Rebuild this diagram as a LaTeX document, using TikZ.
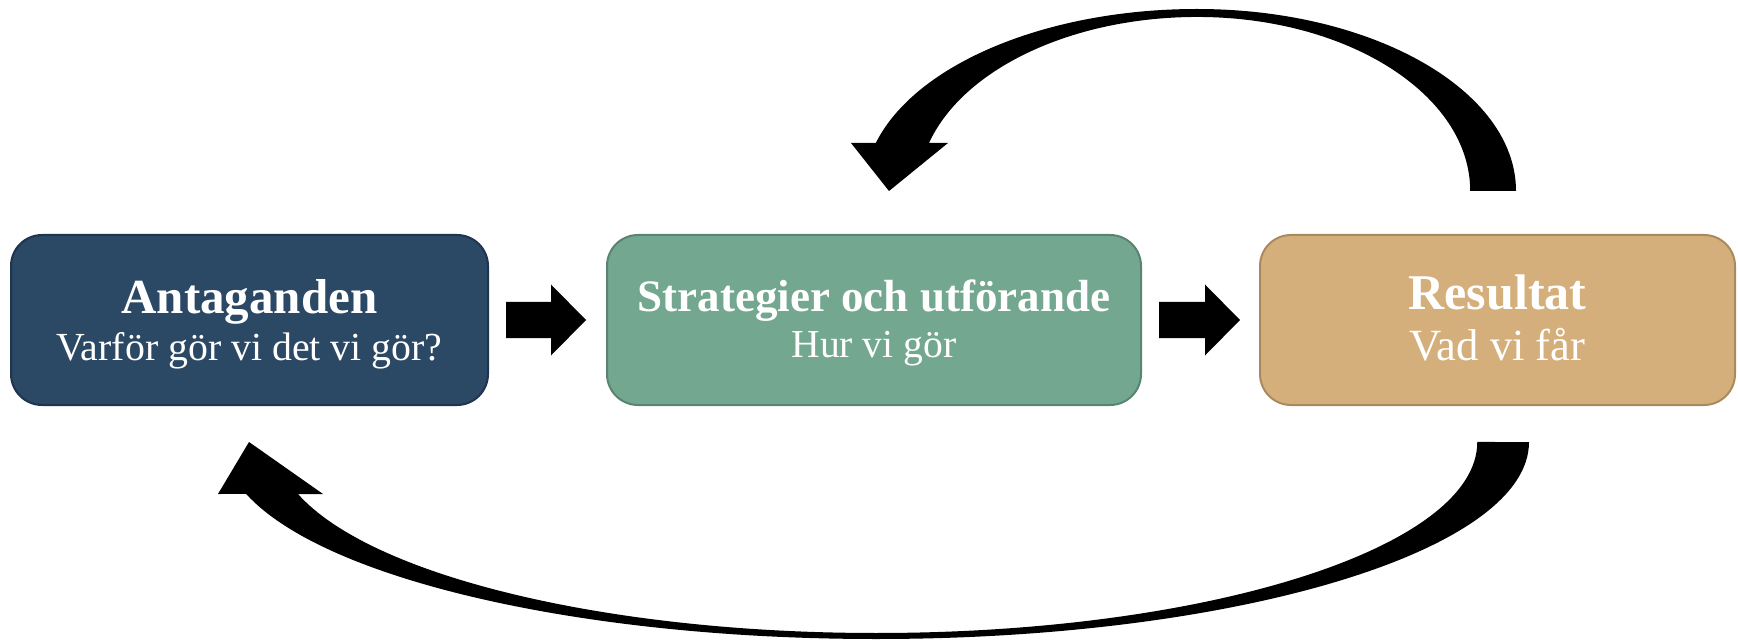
\documentclass[tikz,border=0pt]{standalone}
\usepackage{fontspec}
\setmainfont{Liberation Serif}
\usetikzlibrary{calc}
\definecolor{cA}{HTML}{2B4865}
\definecolor{cAd}{HTML}{1E3450}
\definecolor{cB}{HTML}{73A790}
\definecolor{cBd}{HTML}{5B8470}
\definecolor{cC}{HTML}{D5AF7B}
\definecolor{cCd}{HTML}{A88A5E}
\begin{document}
\begin{tikzpicture}[x=1pt,y=1pt,
  box/.style={line width=2pt, rounded corners=31pt, minimum height=170pt, inner sep=0pt},
  ttl/.style={text=white, anchor=base, inner sep=0pt},
  sub/.style={text=white, anchor=base, inner sep=0pt},
  blk/.style={fill=black, draw=none}]
\useasboundingbox (0,0) rectangle (1738,641);
% boxes
\node[box, fill=cA, draw=cAd, minimum width=477pt] (a) at (249.5,321) {};
\node[box, fill=cB, draw=cBd, minimum width=534pt] (b) at (874,321) {};
\node[box, fill=cC, draw=cCd, minimum width=475pt] (c) at (1497.5,321) {};
% texts
\node[ttl, font={\fontsize{49}{58}\selectfont\bfseries}] (at) at ($(a.center)+(0,6)$) {Antaganden};
\node[sub, font={\fontsize{39.8}{48}\selectfont}] (as) at ($(a.center)+(0,-40)$) {Varför gör vi det vi gör?};
\node[ttl, font={\fontsize{45}{54}\selectfont\bfseries}] (bt) at ($(b.center)+(0,9)$) {Strategier och utförande};
\node[sub, font={\fontsize{39.6}{48}\selectfont}] (bs) at ($(b.center)+(0,-37)$) {Hur vi gör};
\node[ttl, font={\fontsize{50}{60}\selectfont\bfseries}] (ct) at ($(c.center)+(0,10)$) {Resultat};
\node[sub, font={\fontsize{44.6}{54}\selectfont}] (cs) at ($(c.center)+(0,-40)$) {Vad vi får};
% straight block arrows
\coordinate (s1) at ($(a.east)+(17,0)$);
\coordinate (e1) at ($(b.west)+(-20,0)$);
\fill[blk] (s1) ++(0,18) -- ($(e1)+(-35,18)$) -- ($(e1)+(-35,35.5)$) -- (e1)
  -- ($(e1)+(-35,-35.5)$) -- ($(e1)+(-35,-18)$) -- ($(s1)+(0,-18)$) -- cycle;
\coordinate (s2) at ($(b.east)+(17,0)$);
\coordinate (e2) at ($(c.west)+(-19,0)$);
\fill[blk] (s2) ++(0,18) -- ($(e2)+(-35,18)$) -- ($(e2)+(-35,35.5)$) -- (e2)
  -- ($(e2)+(-35,-35.5)$) -- ($(e2)+(-35,-18)$) -- ($(s2)+(0,-18)$) -- cycle;
% top curved arrow: Resultat -> Strategier
\coordinate (tt) at (1516,450);
\coordinate (th) at (889,450);
\fill[blk] (tt) arc[start angle=0, end angle=90, x radius=319, y radius=182]
  arc[start angle=90, end angle=164.7, x radius=333, y radius=182]
  -- (851,498) -- (th) -- (948,498) -- (929,498)
  arc[start angle=164, end angle=90, x radius=279, y radius=174]
  arc[start angle=90, end angle=0, x radius=273, y radius=174] -- cycle;
% bottom curved arrow: Resultat -> Antaganden
\coordinate (bt0) at (1529,199);
\coordinate (bh) at (249,199);
\fill[blk] (bt0) arc[start angle=0, end angle=-90, x radius=653, y radius=197]
  arc[start angle=270, end angle=195.3, x radius=653, y radius=197]
  -- (218,147) -- (bh) -- (323,147) -- (298,147)
  arc[start angle=195.8, end angle=270, x radius=601, y radius=191]
  arc[start angle=270, end angle=360, x radius=601, y radius=191] -- cycle;
\end{tikzpicture}
\end{document}
